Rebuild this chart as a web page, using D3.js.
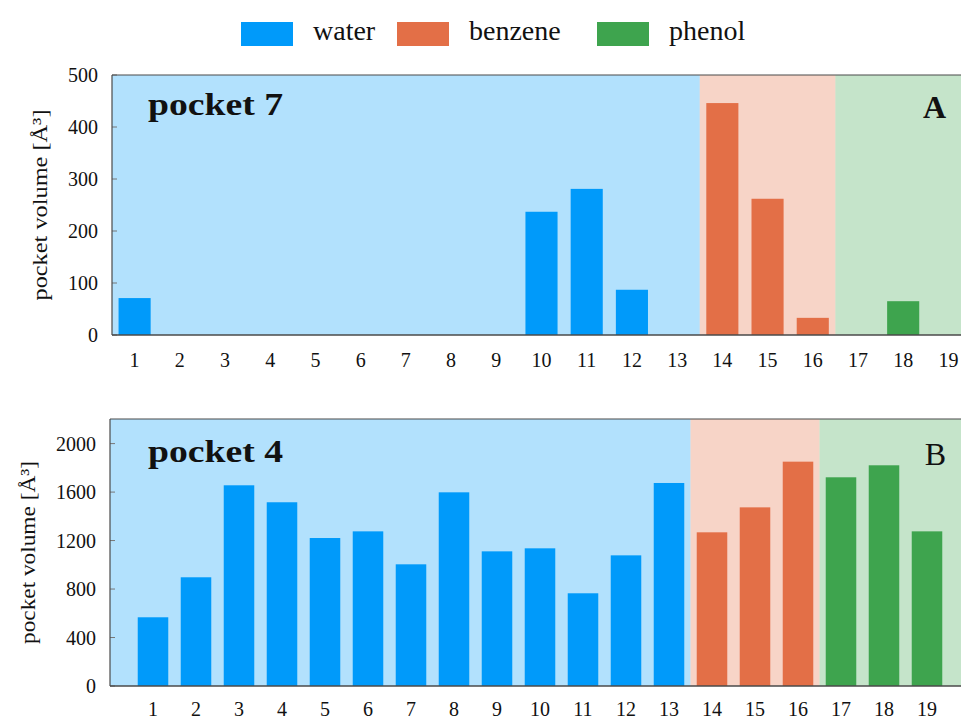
<!DOCTYPE html>
<html><head><meta charset="utf-8">
<script src="https://cdn.jsdelivr.net/npm/d3@7"></script>
<style>body{margin:0;background:#fff}svg{display:block}</style>
</head><body>
<script>
const categories = [1,2,3,4,5,6,7,8,9,10,11,12,13,14,15,16,17,18,19];
const groupOf = ["water","water","water","water","water","water","water","water","water","water","water","water","water","benzene","benzene","benzene","phenol","phenol","phenol"];
const groups = ["water","benzene","phenol"];
const colors = ["#009AFA","#E36F47","#3EA44E"];
const pocket7 = [71,0,0,0,0,0,0,0,0,237,281,87,0,446,262,33,0,65,0];
const pocket4 = [567,897,1656,1516,1221,1276,1004,1598,1111,1136,765,1078,1675,1268,1474,1851,1722,1821,1276];
const ticksA = [0,100,200,300,400,500];
const ticksB = [0,400,800,1200,1600,2000];

const W = 961, H = 719;
const svg = d3.select("body").append("svg").attr("width", W).attr("height", H);
const serif = "'Liberation Serif','Times New Roman',serif";
const color = d3.scaleOrdinal().domain(groups).range(colors);

// legend
const legX = [241, 397, 597];
groups.forEach((g, i) => {
  svg.append("rect").attr("x", legX[i]).attr("y", 22).attr("width", 52).attr("height", 24).attr("fill", color(g));
  svg.append("text").attr("x", legX[i] + 72).attr("y", 40).attr("font-family", serif)
    .attr("font-size", 28).attr("fill", "#111").text(g);
});

function panel(cfg) {
  const x = d3.scaleLinear().domain(cfg.xdom).range([cfg.left, cfg.right]);
  const y = d3.scaleLinear().domain([0, cfg.ymax]).range([cfg.bottom, cfg.top]);
  const step = x(2) - x(1);
  const g = svg.append("g");
  // group backgrounds
  const spans = groups.map(gr => {
    const idx = categories.filter((c, i) => groupOf[i] === gr);
    return {g: gr, a: d3.min(idx) - 0.5, b: d3.max(idx) + 0.5};
  });
  spans[0].a = cfg.xdom[0];
  spans[2].b = cfg.xdom[1];
  g.selectAll("rect.bg").data(spans).join("rect").attr("class", "bg")
    .attr("x", d => x(d.a)).attr("width", d => x(d.b) - x(d.a))
    .attr("y", cfg.top).attr("height", cfg.bottom - cfg.top)
    .attr("fill", d => color(d.g)).attr("fill-opacity", 0.3);
  // bars
  const bw = step * 0.71;
  g.selectAll("rect.bar").data(categories.map((c, i) => ({c, v: cfg.values[i], g: groupOf[i]})).filter(d => d.v > 0))
    .join("rect").attr("class", "bar")
    .attr("x", d => x(d.c) - bw / 2).attr("width", bw)
    .attr("y", d => y(d.v)).attr("height", d => y(0) - y(d.v))
    .attr("fill", d => color(d.g));
  // y ticks inward
  g.selectAll("line.yt").data(cfg.ticks).join("line").attr("class", "yt")
    .attr("x1", cfg.left).attr("x2", cfg.left + 5)
    .attr("y1", d => y(d)).attr("y2", d => y(d)).attr("stroke", "#777").attr("stroke-width", 1);
  g.selectAll("text.yl").data(cfg.ticks).join("text").attr("class", "yl")
    .attr("x", cfg.left - 14).attr("y", d => y(d)).attr("dy", "0.35em")
    .attr("text-anchor", "end").attr("font-family", serif).attr("font-size", 20).attr("fill", "#111")
    .text(d => d);
  // x labels
  g.selectAll("text.xl").data(categories).join("text").attr("class", "xl")
    .attr("x", d => x(d)).attr("y", cfg.xlabY).attr("text-anchor", "middle")
    .attr("font-family", serif).attr("font-size", 20).attr("fill", "#111").text(d => d);
  // frame: left, bottom, top
  const ax = "#4a4a4a";
  g.append("line").attr("x1", cfg.left).attr("x2", W).attr("y1", cfg.bottom).attr("y2", cfg.bottom).attr("stroke", ax).attr("stroke-width", 1.5);
  g.append("line").attr("x1", cfg.left).attr("x2", W).attr("y1", cfg.top).attr("y2", cfg.top).attr("stroke", ax).attr("stroke-width", 1.2);
  g.append("line").attr("x1", cfg.left).attr("x2", cfg.left).attr("y1", cfg.top).attr("y2", cfg.bottom).attr("stroke", ax).attr("stroke-width", 1.2);
  // y label
  const cy = (cfg.top + cfg.bottom) / 2;
  g.append("text").attr("transform", `translate(${cfg.ylabX},${cy}) rotate(-90)`)
    .attr("text-anchor", "middle").attr("font-family", serif).attr("font-size", 21).attr("fill", "#111")
    .attr("textLength", cfg.ylabLen).attr("lengthAdjust", "spacingAndGlyphs")
    .text("pocket volume [Å³]");
  // titles
  g.append("text").attr("x", 148).attr("y", cfg.titleY).attr("font-family", serif).attr("font-weight", "bold")
    .attr("font-size", 31).attr("fill", "#111").attr("textLength", 135).attr("lengthAdjust", "spacingAndGlyphs")
    .text(cfg.title);
  g.append("text").attr("x", 946).attr("y", cfg.titleY + (cfg.letterBold ? 3 : 3)).attr("text-anchor", "end")
    .attr("font-family", serif).attr("font-weight", cfg.letterBold ? "bold" : "normal")
    .attr("font-size", 32).attr("fill", "#111").text(cfg.letter);
}

panel({xdom: [0.5, 19.5], left: 112, right: 971, top: 75, bottom: 335, ymax: 500,
  values: pocket7, ticks: ticksA, xlabY: 367, ylabX: 47, ylabLen: 191,
  title: "pocket 7", titleY: 115, letter: "A", letterBold: true});
panel({xdom: [0, 20], left: 110, right: 970, top: 419, bottom: 686, ymax: 2203,
  values: pocket4, ticks: ticksB, xlabY: 716, ylabX: 35, ylabLen: 183,
  title: "pocket 4", titleY: 462, letter: "B", letterBold: false});
</script>
</body></html>
